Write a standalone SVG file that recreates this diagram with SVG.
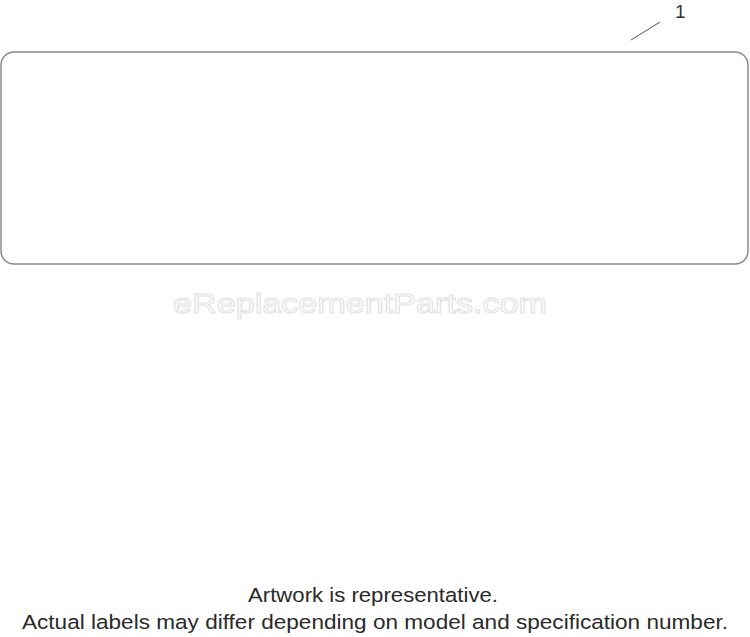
<svg xmlns="http://www.w3.org/2000/svg" width="750" height="637" viewBox="0 0 750 637">
<style>
.frame{fill:none;stroke:#8a8a8a;stroke-width:1.5}
.leader{stroke:#555;stroke-width:1}
.callout{font-family:"Liberation Sans",Arial,sans-serif;font-size:19px;fill:#333}
.wm{font-family:"Liberation Sans",Arial,sans-serif;font-size:28px;fill:#fff;stroke:#e2e2e2;stroke-width:1}
.note{font-family:"Liberation Sans",Arial,sans-serif;font-size:20.5px;fill:#2a2a2a;text-anchor:middle}
</style>
<rect width="750" height="637" fill="#fff"/>
<g id="label-1">
<rect class="frame" x="1" y="52" width="747" height="212" rx="13" ry="13"/>
</g>
<g id="callout-1">
<text class="callout" x="675" y="18">1</text>
</g>
<g id="connectors">
<line class="leader" x1="631" y1="40" x2="660" y2="22"/>
</g>
<text class="wm" x="360" y="313" text-anchor="middle" textLength="374" lengthAdjust="spacingAndGlyphs">eReplacementParts.com</text>
<text class="note" x="373" y="602" textLength="250" lengthAdjust="spacingAndGlyphs">Artwork is representative.</text>
<text class="note" x="375" y="629" textLength="706" lengthAdjust="spacingAndGlyphs">Actual labels may differ depending on model and specification number.</text>
</svg>
